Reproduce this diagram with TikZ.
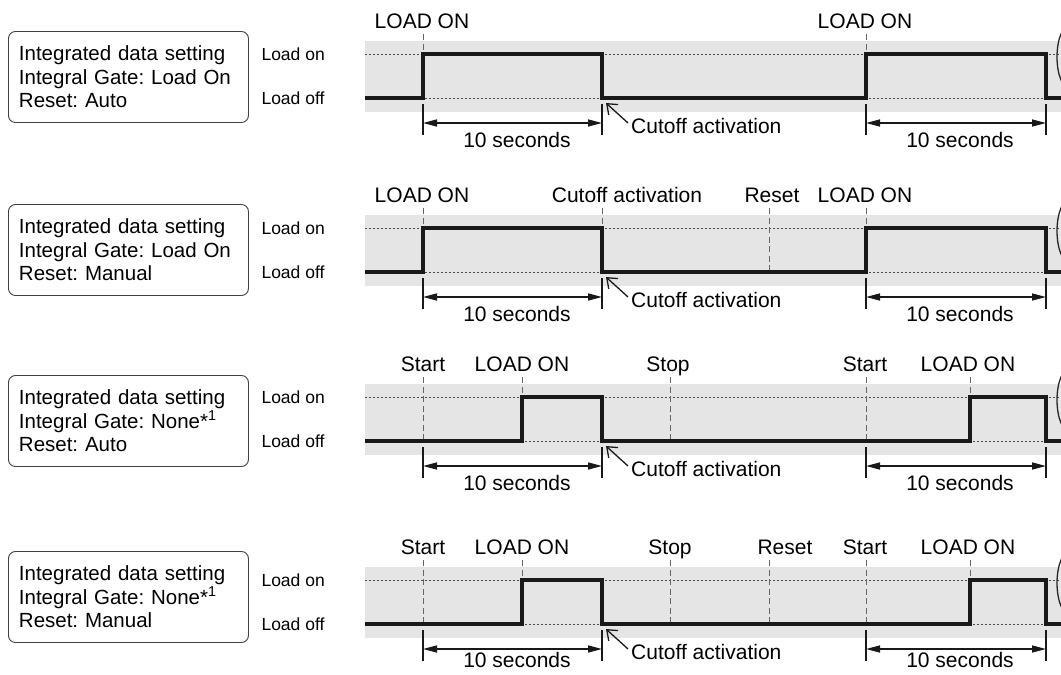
\documentclass[tikz,border=0pt]{standalone}
\usepackage{fontspec}
\setmainfont{Liberation Sans}
\usetikzlibrary{arrows.meta}

\begin{document}
\frenchspacing
\begin{tikzpicture}[
    x=1pt, y=-1pt,
    font=\fontsize{21}{23.5}\selectfont,
    band/.style={fill=black!10},
    level/.style={draw=black!70, dash pattern=on 2pt off 2pt, line width=0.8pt},
    signal/.style={draw=black!90, line width=3.4pt},
    marker/.style={draw=black!60, dash pattern=on 6pt off 3.5pt, line width=0.9pt},
    dimtick/.style={draw=black!90, line width=1.5pt},
    dimline/.style={draw=black!90, line width=1.5pt, {Triangle[length=14pt,width=7pt]}-{Triangle[length=14pt,width=7pt]}},
    pointer/.style={draw=black!90, line width=1.3pt, -{Straight Barb[length=9pt,width=14pt]}},
    bracket/.style={draw=black!85, line width=1.3pt},
    settingbox/.style={draw=black!75, line width=0.9pt, rounded corners=7pt, align=left, text width=219pt, inner xsep=10.5pt, minimum height=91pt, anchor=west, font=\fontsize{20.5}{23.5}\selectfont},
    levellabel/.style={anchor=west, font=\fontsize{17.5}{20}\selectfont},
    eventlabel/.style={anchor=base},
    spanlabel/.style={anchor=base, inner sep=0pt}
]
    \useasboundingbox (0,0) rectangle (1061,675);
    \clip (0,0) rectangle (1061,675);

    % Bands, levels, setting boxes
    \foreach \i/\yh/\yc/\gate/\reset in {1/54/77/Load On/Auto, 2/228/250/Load On/Manual, 3/397/421/None*\textsuperscript{1}/Auto, 4/580/597/None*\textsuperscript{1}/Manual} {
        \pgfmathsetmacro{\yl}{\yh+44}
        \fill [band] (365,\yh-13) rectangle (1061,\yl+14);
        \draw [level] (365,\yh) -- (1061,\yh);
        \draw [level] (365,\yl) -- (1061,\yl);
        \node [settingbox] (box\i) at (8,\yc) {Integrated data setting\\Integral Gate: \gate\\Reset: \reset};
        \node [levellabel] (on\i) at (258,\yh) {Load on};
        \node [levellabel] (off\i) at (258,\yl) {Load off};
    }

    % Row 1 events
    \foreach \x/\lx/\txt in {423/422/LOAD ON, 866/865/LOAD ON} {
        \node [eventlabel] (ea\x) at (\lx,28) {\txt};
        \draw [marker] (\x,34) -- (\x,98);
    }

    % Row 2 events
    \foreach \x/\lx/\txt in {423/422/LOAD ON, 602/627/Cutoff activation, 769/772/Reset, 866/865/LOAD ON} {
        \node [eventlabel] (eb\x) at (\lx,202) {\txt};
        \draw [marker] (\x,208) -- (\x,272);
    }

    % Row 3 events
    \foreach \x/\lx/\txt in {423/423/Start, 522/522/LOAD ON, 670/668/Stop, 866/865/Start, 970/968/LOAD ON} {
        \node [eventlabel] (ec\x) at (\lx,371) {\txt};
        \draw [marker] (\x,377) -- (\x,441);
    }

    % Row 4 events
    \foreach \x/\lx/\txt in {423/423/Start, 522/522/LOAD ON, 670/670/Stop, 769/785/Reset, 866/865/Start, 970/968/LOAD ON} {
        \node [eventlabel] (ed\x) at (\lx,554) {\txt};
        \draw [marker] (\x,560) -- (\x,624);
    }

    % Signals, 10 second spans, cutoff pointers
    \foreach \i/\yh/\xa/\xb in {1/54/423/866, 2/228/423/866, 3/397/522/970, 4/580/522/970} {
        \pgfmathsetmacro{\yl}{\yh+44}
        \pgfmathsetmacro{\ys}{min(\yl+49,667)}
        \draw [signal] (365,\yl) -- (\xa,\yl) -- (\xa,\yh) -- (602,\yh) -- (602,\yl)
            -- (\xb,\yl) -- (\xb,\yh) -- (1046,\yh) -- (1046,\yl) -- (1061,\yl);
        \foreach \x in {423, 602, 866, 1046}
            \draw [dimtick] (\x,\yl+6) -- (\x,\yl+37);
        \coordinate (la\i) at (423,\yl+25);
        \coordinate (lb\i) at (602,\yl+25);
        \coordinate (lc\i) at (866,\yl+25);
        \coordinate (ld\i) at (1046,\yl+25);
        \draw [dimline] (la\i) -- (lb\i);
        \draw [dimline] (lc\i) -- (ld\i);
        \node [spanlabel] (sa\i) at (517,\ys) {10 seconds};
        \node [spanlabel] (sb\i) at (960,\ys) {10 seconds};
        \coordinate (ct\i) at (628,\yl+25);
        \coordinate (cp\i) at (606,\yl+5);
        \draw [pointer] (ct\i) -- (cp\i);
        \node [anchor=west, inner sep=0pt] (co\i) at (631,\yl+28) {Cutoff activation};
        \draw [bracket] (1070,\yh+3) ellipse [x radius=13, y radius=32];
    }
\end{tikzpicture}
\end{document}
